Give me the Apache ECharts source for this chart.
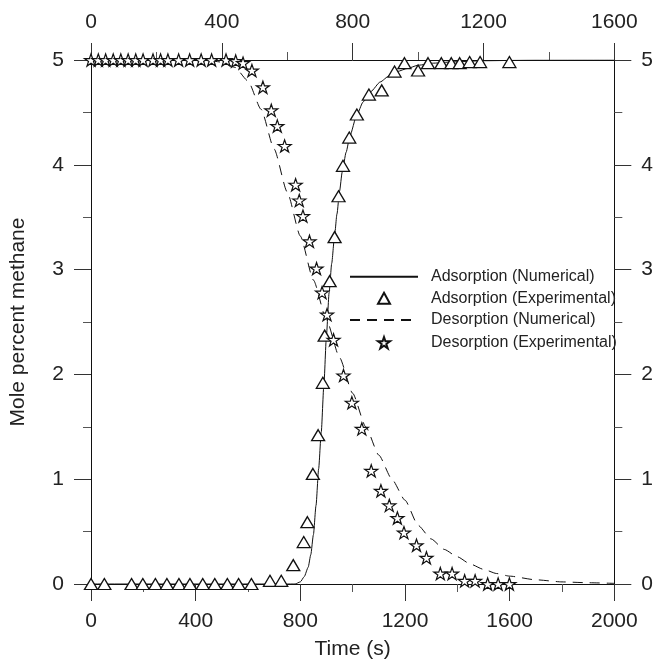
<!DOCTYPE html>
<html>
<head>
<meta charset="utf-8">
<script src="https://cdn.jsdelivr.net/npm/echarts@6/dist/echarts.min.js"></script>
<style>
html,body{margin:0;padding:0;background:#fff;}
#c{width:656px;height:665px;}
</style>
</head>
<body>
<div id="c"></div>
<script>
// Tick labels / axis setup values
const bottomTicks = [0, 400, 800, 1200, 1600, 2000];
const topTicks = [0, 400, 800, 1200, 1600];
const yTicks = [0, 1, 2, 3, 4, 5];

// Adsorption (Experimental) points [time, mole %]
const adsExp = [
  [0,0],[51,0],[155,0],[198,0],[246,0],[290,0],[336,0],[378,0],[427,0],[473,0],[521,0],[564,0],[613,0],
  [684,0.03],[727,0.03],[773,0.18],[813,0.40],[827,0.59],[848,1.05],[868,1.42],[886,1.92],[893,2.37],
  [912,2.89],[931,3.31],[946,3.70],[963,3.99],[987,4.26],[1016,4.48],[1062,4.67],[1111,4.71],
  [1160,4.89],[1198,4.97],[1250,4.90],[1288,4.97],[1339,4.97],[1377,4.97],[1409,4.97],[1447,4.98],
  [1487,4.98],[1599,4.98]
];

// Desorption (Experimental) points [time, mole %]
const desExp = [
  [0,5],[28,5],[56,5],[85,5],[114,5],[142,5],[171,5],[199,5],[237,5],[266,5],[294,5],[335,5],
  [377,5],[421,5],[461,5],[516,5],[553,4.99],[581,4.97],[615,4.90],[657,4.74],[689,4.52],[712,4.37],
  [740,4.18],[782,3.81],[796,3.66],[810,3.51],[835,3.27],[862,3.01],[883,2.78],[902,2.57],[927,2.33],
  [965,1.99],[997,1.73],[1035,1.48],[1071,1.08],[1108,0.89],[1140,0.75],[1171,0.63],[1196,0.49],
  [1244,0.37],[1282,0.25],[1335,0.10],[1380,0.10],[1428,0.03],[1468,0.03],[1516,0],[1556,0],[1599,0]
];

// Adsorption (Numerical) curve
const adsNum = [
  [0,0],[700,0],[780,0],[800,0.02],[815,0.07],[830,0.16],[840,0.28],[850,0.47],[860,0.75],[870,1.1],
  [880,1.45],[890,1.9],[900,2.38],[910,2.78],[920,3.06],[930,3.3],[940,3.53],[950,3.75],[960,3.93],
  [975,4.12],[990,4.28],[1015,4.47],[1040,4.6],[1070,4.7],[1105,4.79],[1140,4.85],[1170,4.89],
  [1210,4.92],[1250,4.95],[1310,4.97],[1380,4.982],[1500,4.993],[1700,4.999],[2000,5]
];

// Desorption (Numerical) curve
const desNum = [
  [0,5],[400,5],[450,4.995],[500,4.98],[550,4.93],[600,4.8],[650,4.53],[700,4.15],[750,3.74],
  [800,3.32],[850,2.9],[900,2.52],[950,2.16],[1000,1.82],[1050,1.5],[1100,1.23],[1150,1.0],
  [1200,0.8],[1250,0.56],[1300,0.43],[1350,0.33],[1400,0.26],[1450,0.19],[1500,0.14],[1550,0.1],
  [1600,0.075],[1700,0.04],[1800,0.02],[1900,0.012],[2000,0.006]
];

const seriesNames = ['Adsorption (Numerical)','Adsorption (Experimental)','Desorption (Numerical)','Desorption (Experimental)'];

const FONT = '"Liberation Sans", Arial, sans-serif';
const starPath = 'path://M50,0 L61.8,35.1 L98.9,35.1 L68.8,56.9 L80.3,91.9 L50,70.2 L19.7,91.9 L31.2,56.9 L1.1,35.1 L38.2,35.1 Z';

function tickStyle(){ return {show:true, inside:false, length:17, lineStyle:{color:'#333', width:1}}; }
function minorStyle(){ return {show:true, splitNumber:2, length:8, lineStyle:{color:'#555', width:1}}; }
function axLine(){ return {show:true, onZero:false, lineStyle:{color:'#111', width:1}}; }
function labStyle(){ return {show:true, inside:false, fontSize:21, fontFamily:FONT, color:'#222', margin:27, formatter:function(v){return String(v);}}; }

const rowCenters = [276.7, 298.3, 320, 342.7];
function legendFor(i, isLine){
  const base = {
    data:[seriesNames[i]], orient:'vertical', top:rowCenters[i]-8, padding:0, selectedMode:false,
    textStyle:{fontSize:16, fontFamily:FONT, color:'#222'}
  };
  if (isLine) {
    base.left = 349; base.itemWidth = 68; base.itemHeight = 12;
    base.textStyle.padding = [0,0,0,8];
    base.itemStyle = {opacity:0};
  } else {
    base.left = 377; base.itemWidth = 12; base.itemHeight = (i===1 ? 11 : 12);
    base.textStyle.padding = [0,0,0,36];
  }
  return base;
}

const chart = echarts.init(document.getElementById('c'), null, {renderer:'canvas'});
chart.setOption({
  animation:false,
  backgroundColor:'#fff',
  grid:{left:89.3, right:40.3, top:60, bottom:79.3, containLabel:false},
  legend:[legendFor(0,true), legendFor(1,false), legendFor(2,true), legendFor(3,false)],
  xAxis:[
    {type:'value', position:'bottom', min:bottomTicks[0], max:bottomTicks[bottomTicks.length-1], interval:400,
     name:'Time (s)', nameLocation:'middle', nameGap:55,
     nameTextStyle:{fontSize:21, fontFamily:FONT, color:'#222'},
     axisLine:axLine(), axisTick:tickStyle(), minorTick:minorStyle(), splitLine:{show:false}, minorSplitLine:{show:false},
     axisLabel:labStyle()},
    {type:'value', position:'top', min:topTicks[0], max:topTicks[topTicks.length-1], interval:400,
     axisLine:axLine(), axisTick:tickStyle(), minorTick:minorStyle(), splitLine:{show:false}, minorSplitLine:{show:false},
     axisLabel:labStyle()}
  ],
  yAxis:[
    {type:'value', position:'left', min:yTicks[0], max:yTicks[yTicks.length-1], interval:1,
     name:'Mole percent methane', nameLocation:'middle', nameGap:62,
     nameTextStyle:{fontSize:21, fontFamily:FONT, color:'#222'},
     axisLine:axLine(), axisTick:tickStyle(), minorTick:minorStyle(), splitLine:{show:false}, minorSplitLine:{show:false},
     axisLabel:labStyle()},
    {type:'value', position:'right', min:yTicks[0], max:yTicks[yTicks.length-1], interval:1,
     axisLine:axLine(), axisTick:tickStyle(), minorTick:minorStyle(), splitLine:{show:false}, minorSplitLine:{show:false},
     axisLabel:labStyle()}
  ],
  series:[
    {name:seriesNames[0], type:'line', xAxisIndex:0, yAxisIndex:0, data:adsNum, symbol:'none',
     smooth:0.2, smoothMonotone:'x', lineStyle:{color:'#111', width:1}, itemStyle:{color:'#111'}, z:2},
    {name:seriesNames[1], type:'scatter', xAxisIndex:0, yAxisIndex:0, data:adsExp, symbol:'triangle',
     symbolSize:[13,11], itemStyle:{color:'#fff', borderColor:'#111', borderWidth:1.3, opacity:1}, z:4},
    {name:seriesNames[2], type:'line', xAxisIndex:0, yAxisIndex:0, data:desNum, symbol:'none',
     smooth:0.2, smoothMonotone:'x', lineStyle:{color:'#111', width:1, type:[10,7]}, itemStyle:{color:'#111'}, z:2},
    {name:seriesNames[3], type:'scatter', xAxisIndex:0, yAxisIndex:0, data:desExp, symbol:starPath,
     symbolKeepAspect:true, symbolSize:13, itemStyle:{color:'#fff', borderColor:'#111', borderWidth:1.2, opacity:1}, z:5}
  ]
});
</script>
</body>
</html>
